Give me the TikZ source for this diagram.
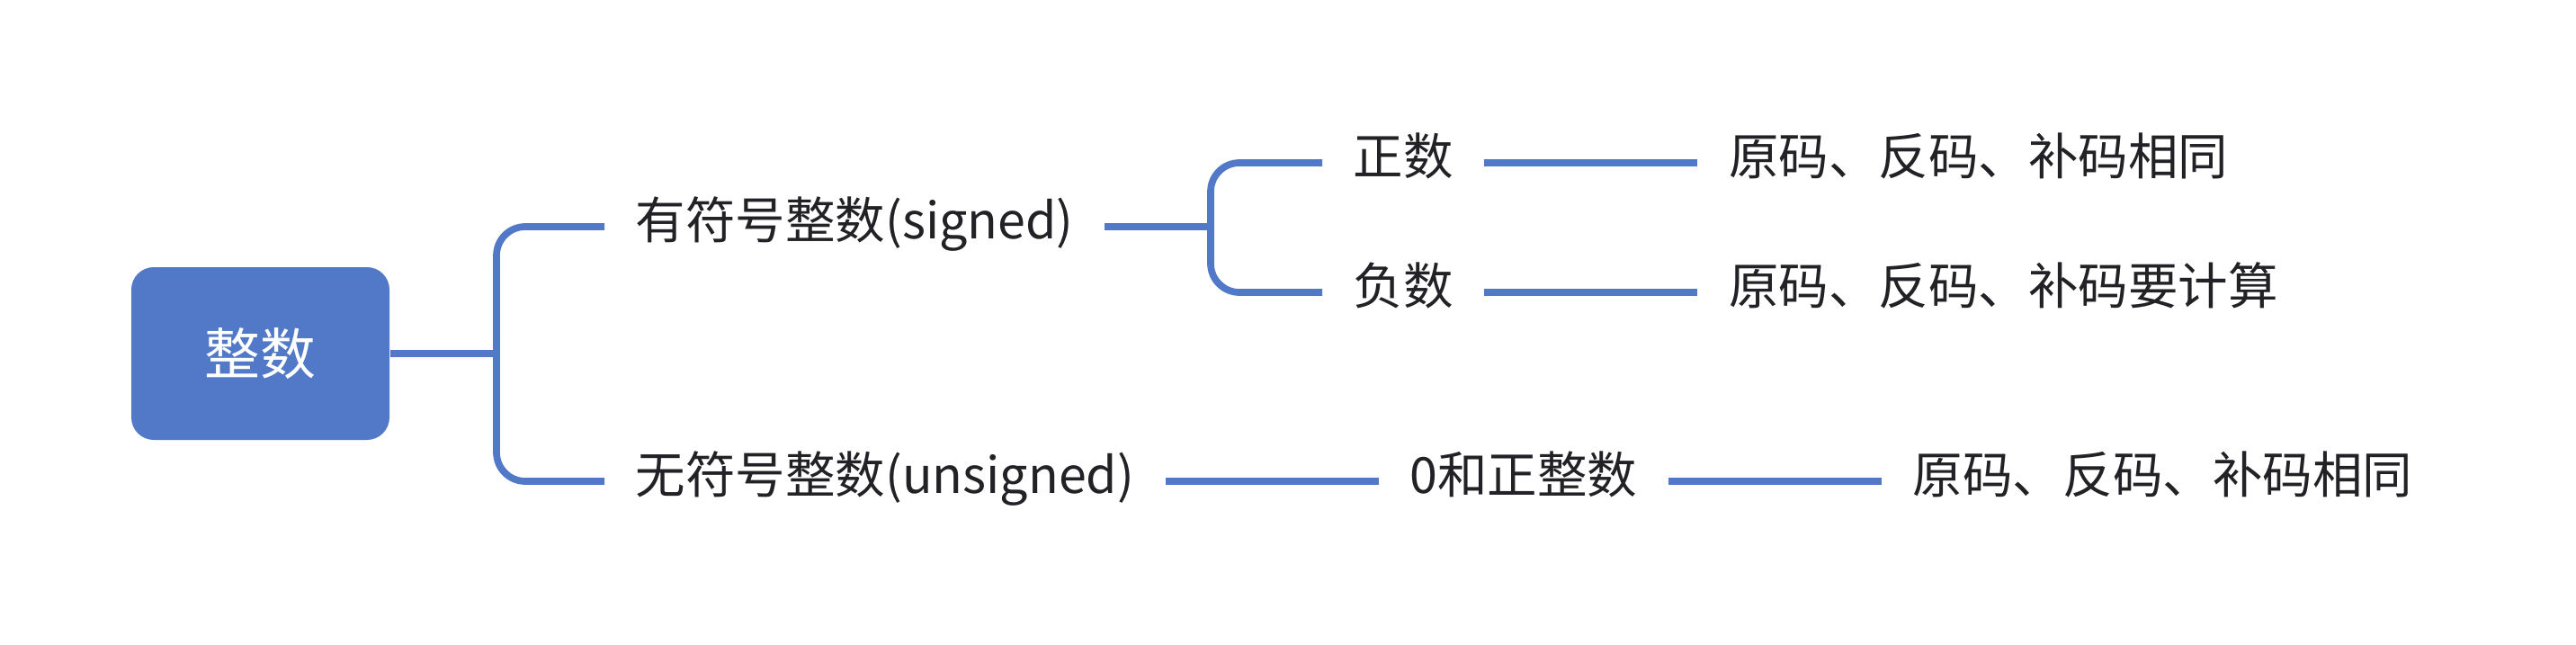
\documentclass[tikz,border=0pt]{standalone}
\usepackage{fontspec}
\newfontfamily\cjk{Noto Sans CJK SC}
\usetikzlibrary{positioning}
\definecolor{mapblue}{RGB}{81,121,199}
\definecolor{mapink}{RGB}{34,34,38}

\begin{document}
\begin{tikzpicture}[topic/.style={rectangle,rounded corners=0.25cm,fill=mapblue,text=white,minimum width=2.87cm,minimum height=1.92cm,font=\cjk\fontsize{17.6}{20}\selectfont}, leaf/.style={anchor=west,inner xsep=0.34cm,inner ysep=0pt,text height=0.88em,text depth=0.12em,text=mapink,font=\cjk\fontsize{15.8}{19}\selectfont}, branch/.style={draw=mapblue,line width=2.2pt,rounded corners=0.32cm}, node distance=2.37cm]
        \useasboundingbox (0,0) rectangle (28.64,-7.16);

        \node[topic] (root) at (2.895,-3.93) {整数};
        \coordinate (j1) at (5.52,-3.93);
        \node[leaf] (signed) at (6.72,-2.52) {有符号整数(signed)};
        \node[leaf] (unsigned) at (6.72,-5.35) {无符号整数(unsigned)};
        \coordinate (j2) at (13.46,-2.52);
        \node[leaf] (pos) at (14.70,-1.81) {正数};
        \node[leaf] (neg) at (14.70,-3.25) {负数};
        \node[leaf, right=of pos] (posrule) {原码、反码、补码相同};
        \node[leaf, right=of neg] (negrule) {原码、反码、补码要计算};
        \node[leaf, right=of unsigned] (zeropos) {0和正整数};
        \node[leaf, right=of zeropos] (unsrule) {原码、反码、补码相同};

        \draw[branch] (root.east) -- (j1);
        \draw[branch] (j1) |- (signed.west);
        \draw[branch] (j1) |- (unsigned.west);
        \draw[branch] (signed.east) -- (j2);
        \draw[branch] (j2) |- (pos.west);
        \draw[branch] (j2) |- (neg.west);
        \draw[branch] (pos.east) -- (posrule.west);
        \draw[branch] (neg.east) -- (negrule.west);
        \draw[branch] (unsigned.east) -- (zeropos.west);
        \draw[branch] (zeropos.east) -- (unsrule.west);
    \end{tikzpicture}
\end{document}
